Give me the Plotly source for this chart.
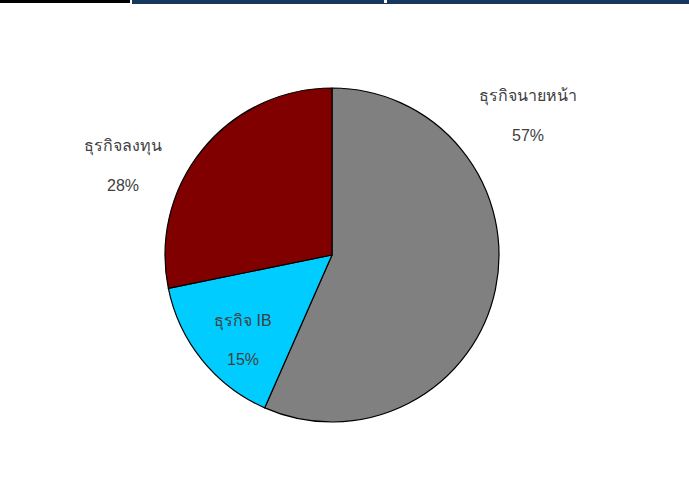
import plotly.graph_objects as go

labels = ["ธุรกิจนายหน้า", "ธุรกิจ IB", "ธุรกิจลงทุน"]
values = [56.6, 15.2, 28.2]
colors = ["#808080", "#00CCFF", "#800000"]

W, H = 689, 484
fig = go.Figure(go.Pie(
    labels=labels, values=values, sort=False, direction="clockwise", rotation=0,
    marker=dict(colors=colors, line=dict(color="black", width=1.2)),
    textinfo="none", hoverinfo="label+percent",
    domain=dict(x=[165/W, 499/W], y=[62/H, 396/H]),
    showlegend=False,
))

total = sum(values)
label_pos = [(528, 97), (243, 321), (123, 147)]
font = dict(family="Arial, Liberation Sans, Noto Sans, sans-serif", size=16, color="#404040")
for lab, v, (x, y) in zip(labels, values, label_pos):
    fig.add_annotation(x=x/W, y=1-y/H, xref="paper", yref="paper", text=lab,
                       showarrow=False, font=font, xanchor="center", yanchor="middle")
    fig.add_annotation(x=x/W, y=1-(y+38)/H, xref="paper", yref="paper",
                       text=f"{round(v/total*100)}%", showarrow=False, font=font,
                       xanchor="center", yanchor="middle")

# top strip artifacts
fig.add_shape(type="rect", xref="paper", yref="paper", x0=0, x1=130/W, y0=1-3/H, y1=1,
              fillcolor="black", line_width=0)
fig.add_shape(type="rect", xref="paper", yref="paper", x0=132/W, x1=1, y0=1-4/H, y1=1,
              fillcolor="#17375E", line_width=0)
fig.add_shape(type="rect", xref="paper", yref="paper", x0=384/W, x1=387/W, y0=1-3/H, y1=1,
              fillcolor="white", line_width=0)

fig.update_layout(width=W, height=H, margin=dict(l=0, r=0, t=0, b=0),
                  paper_bgcolor="white", plot_bgcolor="white")
fig.write_html("out.html")
